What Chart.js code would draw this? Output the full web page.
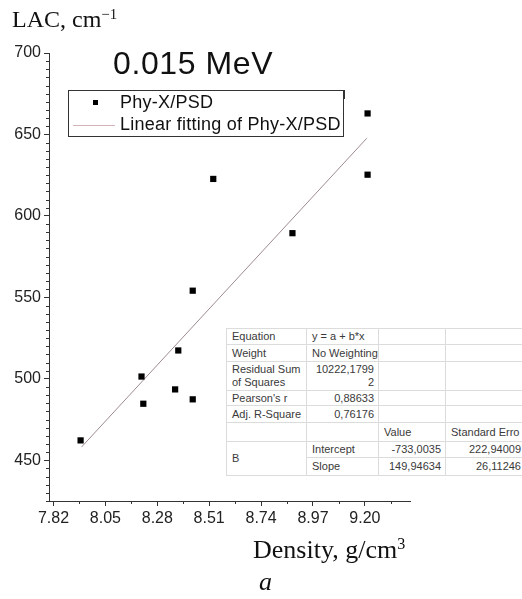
<!DOCTYPE html>
<html>
<head>
<meta charset="utf-8">
<script src="https://cdn.jsdelivr.net/npm/chart.js@4.4.1/dist/chart.umd.min.js"></script>
<style>
  html, body { margin: 0; padding: 0; background: #fff; overflow: hidden; }
  #wrap { position: relative; width: 522px; height: 599px; overflow: hidden; }
  #chartBox { position: absolute; left: 0; top: 0; width: 522px; height: 599px; }
  .lbl { position: absolute; font-family: "Liberation Serif", "Times New Roman", serif; color: #111; white-space: nowrap; line-height: 1; }
  .lbl sup { font-size: 0.62em; vertical-align: 0; position: relative; top: -0.55em; }
  #title { position: absolute; left: 113px; top: 47px; font: 32px "Liberation Sans", Arial, sans-serif; line-height: 1;
           letter-spacing: 0.6px; color: #111; white-space: nowrap; }
  #legend { position: absolute; left: 68px; top: 90px; width: 274px; height: 45px; border: 1px solid #333; background: #fff;
            font: 18px "Liberation Sans", Arial, sans-serif; line-height: 1; letter-spacing: 0.25px; color: #111; }
  #legend .row { position: absolute; white-space: nowrap; }
  #legend .sq { position: absolute; left: 24px; width: 5px; height: 5px; background: #000; }
  #legend .ln { position: absolute; left: 4px; width: 42px; height: 0; border-top: 1px solid #d2b4b9; }
  #legend .nick { position: absolute; right: -2px; top: -1px; width: 0; height: 9px; border-right: 1px solid #333; }
  #stats { position: absolute; left: 226px; top: 328px; border-collapse: collapse; table-layout: fixed; width: 299px; background: #fff;
           font: 11px "Liberation Sans", Arial, sans-serif; color: #3a3a3a; border: 1px solid #9a9a9a; }
  #stats td { border: 1px solid #dcdcdc; padding: 0 4px 0 5px; line-height: 13px; vertical-align: middle; white-space: nowrap; overflow: hidden; }
  #stats td.r { text-align: right; }
</style>
</head>
<body>
<div id="wrap">
  <div id="chartBox"><canvas id="chart"></canvas></div>
  <div id="title">0.015 MeV</div>
  <div id="legend">
    <div class="nick"></div>
    <div class="sq" style="top:9px"></div>
    <div class="row" style="left:51px; top:2px">Phy-X/PSD</div>
    <div class="ln" style="top:34px"></div>
    <div class="row" style="left:51px; top:24px">Linear fitting of Phy-X/PSD</div>
  </div>
  <table id="stats"></table>
  <div class="lbl" style="left:12px; top:7px; font-size:24px">LAC, cm<sup>&minus;1</sup></div>
  <div class="lbl" style="left:253px; top:537px; font-size:26px">Density, g/cm<sup>3</sup></div>
  <div class="lbl" style="left:259px; top:569px; font-size:26px; font-style:italic">a</div>
</div>
<script>
const density = [7.94, 8.218, 8.21, 8.359, 8.373, 8.437, 8.437, 8.528, 8.879, 9.212, 9.212];
const lac = [462.2, 484.7, 501.4, 493.5, 517.4, 487.4, 554.1, 622.7, 589.4, 625.3, 662.9];

// Fitted line end points (y = a + b*x)
const fitDensity = [7.944, 9.208];
const fitLac = [458.1, 647.6];

// Axes
const xMin = 7.80, xMax = 9.40, xStep = 0.23;
const yMin = 425, yMax = 700, yStep = 50, yMinorStep = 5;

// Fit statistics table
const statRows = [
  ['Equation', 'y = a + b*x', '', ''],
  ['Weight', 'No Weighting', '', ''],
  ['Residual Sum<br>of Squares', '10222,1799<br>2', '', ''],
  ["Pearson's r", '0,88633', '', ''],
  ['Adj. R-Square', '0,76176', '', ''],
  ['', '', 'Value', 'Standard Erro'],
];
const paramName = 'B';
const paramRows = [
  ['Intercept', '-733,0035', '222,94009'],
  ['Slope', '149,94634', '26,11246'],
];

// build table
const colW = [80, 72, 67, 80];
const rowH = [16, 17, 29, 15, 17, 19, 16, 18];
let html = '<colgroup>' + colW.map(w => `<col style="width:${w}px">`).join('') + '</colgroup>';
statRows.forEach((r, i) => {
  html += `<tr style="height:${rowH[i]}px"><td>${r[0]}</td><td class="${i >= 2 ? 'r' : ''}">${r[1]}</td><td>${r[2]}</td><td>${r[3]}</td></tr>`;
});
paramRows.forEach((r, i) => {
  html += `<tr style="height:${rowH[statRows.length + i]}px">` + (i === 0 ? `<td rowspan="2">${paramName}</td>` : '') +
    `<td>${r[0]}</td><td class="r">${r[1]}</td><td class="r">${r[2]}</td></tr>`;
});
document.getElementById('stats').innerHTML = html;

const minorTicks = {
  id: 'minorTicks',
  afterDraw(chart) {
    const { ctx, chartArea, scales: { x, y } } = chart;
    ctx.save();
    ctx.strokeStyle = '#333';
    ctx.lineWidth = 1;
    ctx.beginPath();
    for (let v = yMin; v <= yMax; v += yMinorStep) {
      if (v % yStep === 0) continue;
      const py = Math.round(y.getPixelForValue(v)) + 0.5;
      ctx.moveTo(chartArea.left - 3, py);
      ctx.lineTo(chartArea.left, py);
    }
    const vals = x.ticks.map(t => t.value);
    const mids = vals.map(v => v + xStep / 2);
    mids.push(vals[0] - xStep / 2);
    mids.forEach(v => {
      if (v < xMin || v > xMax) return;
      const px = Math.round(x.getPixelForValue(v)) + 0.5;
      ctx.moveTo(px, chartArea.bottom);
      ctx.lineTo(px, chartArea.bottom + 3);
    });
    ctx.stroke();
    ctx.restore();
  }
};

const tickFont = { family: 'Liberation Sans', size: 16 };

new Chart(document.getElementById('chart'), {
  type: 'scatter',
  data: {
    datasets: [
      {
        label: 'Phy-X/PSD',
        data: density.map((d, i) => ({ x: d, y: lac[i] })),
        pointStyle: 'rect',
        pointRadius: 4.4,
        pointHoverRadius: 4.4,
        backgroundColor: '#000',
        borderColor: '#000',
        borderWidth: 0
      },
      {
        label: 'Linear fitting of Phy-X/PSD',
        type: 'line',
        data: fitDensity.map((d, i) => ({ x: d, y: fitLac[i] })),
        borderColor: '#9c8a8e',
        borderWidth: 1,
        pointRadius: 0,
        fill: false
      }
    ]
  },
  options: {
    responsive: true,
    maintainAspectRatio: false,
    animation: false,
    layout: { padding: { top: 53, right: 112, bottom: 68, left: 0 } },
    plugins: { legend: { display: false }, tooltip: { enabled: false } },
    scales: {
      x: {
        type: 'linear',
        min: xMin,
        max: xMax,
        afterFit: s => { s.height = 30; },
        border: { display: true, color: '#333', width: 1 },
        grid: { drawOnChartArea: false, tickLength: 5, tickColor: '#333' },
        ticks: { stepSize: xStep, includeBounds: false, font: tickFont, color: '#222', padding: 3,
                 maxRotation: 0, autoSkip: false, callback: v => v.toFixed(2) }
      },
      y: {
        min: yMin,
        max: yMax,
        afterFit: s => { s.width = 49; },
        border: { display: true, color: '#333', width: 1 },
        grid: { drawOnChartArea: false, tickLength: 5, tickColor: '#333' },
        ticks: { stepSize: yStep, includeBounds: false, font: tickFont, color: '#222', padding: 3 }
      }
    }
  },
  plugins: [minorTicks]
});
</script>
</body>
</html>
